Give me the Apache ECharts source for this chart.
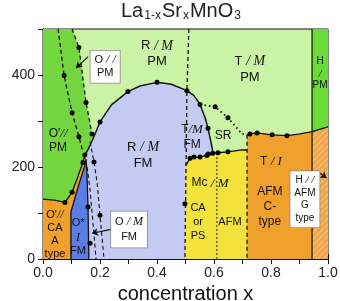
<!DOCTYPE html>
<html><head><meta charset="utf-8">
<script src="https://cdn.jsdelivr.net/npm/echarts@6/dist/echarts.min.js"></script>
<style>html,body{margin:0;padding:0;background:#fff}#c{width:340px;height:301px}</style>
</head><body><div id="c"></div>
<script>
// ---- axis ticks ----
const xTicks = [0.0, 0.2, 0.4, 0.6, 0.8, 1.0];
const yTicks = [0, 200, 400];

// ---- phase regions (x, T) ----
const regionLavender = [[0.14,0],[0.498,0],[0.502,204],[0.516,219],[0.551,222],[0.575,225],[0.596,230],[0.596,233],[0.588,258],[0.579,284],[0.57,305],[0.551,336],[0.53,355],[0.505,366],[0.45,380],[0.4,384],[0.34,376],[0.298,364],[0.24,335],[0.2,298],[0.176,262],[0.16,240],[0.147,226],[0.14,210]];
const regionOrangeLeft = [[0,0],[0.098,0],[0.098,102],[0.12,150],[0.147,204],[0.152,222],[0.147,226],[0.14,210],[0.12,175],[0.102,145],[0.077,123],[0.04,128],[0,130]];
const regionBlue = [[0.098,0],[0.161,0],[0.158,113],[0.154,189],[0.151,215],[0.149,222],[0.147,204],[0.12,150],[0.098,102]];
const regionDarkGreen = [[0,500],[0.102,500],[0.126,460],[0.151,340],[0.172,272],[0.176,262],[0.16,240],[0.147,226],[0.14,210],[0.12,175],[0.102,145],[0.077,123],[0.04,128],[0,130]];
const regionYellow = [[0.498,0],[0.716,0],[0.716,237],[0.698,237],[0.649,233],[0.614,231],[0.596,230],[0.575,225],[0.551,222],[0.516,219],[0.502,204]];
const regionOrangeRight = [[0.716,0],[1,0],[1,287],[0.944,277],[0.902,272],[0.856,268],[0.804,270],[0.751,274],[0.726,272],[0.716,270]];
const regionHatched = [[0.944,0],[1,0],[1,287],[0.944,277]];
const regionHGreen = [[0.944,277],[1,287],[1,500],[0.944,500]];

// ---- boundary lines ----
const solidDome = [[0.147,226],[0.16,240],[0.176,262],[0.2,298],[0.24,335],[0.298,364],[0.34,376],[0.4,384],[0.45,380],[0.505,366],[0.53,355],[0.551,336],[0.57,305],[0.579,284],[0.588,258],[0.596,233]];
const solidGreenBottom = [[0,130],[0.04,128],[0.077,123],[0.102,145],[0.12,175],[0.14,210],[0.147,226]];
const solidYellowTop = [[0.502,204],[0.516,219],[0.551,222],[0.575,225],[0.596,230],[0.614,231],[0.649,233],[0.698,237],[0.716,237]];
const solidOrangeTop = [[0.716,270],[0.726,272],[0.751,274],[0.804,270],[0.856,268],[0.902,272],[0.944,277],[1,287]];
const solidBlueLeft = [[0.098,0],[0.098,102],[0.12,150],[0.147,204],[0.151,218]];
const solidBlueRight = [[0.161,0],[0.158,113],[0.154,189],[0.151,215]];
const solidH = [[0.944,0],[0.944,500]];
const dashA = [[0.053,500],[0.074,399],[0.102,318],[0.126,266],[0.14,232]];
const dashB = [[0.102,500],[0.126,460],[0.151,340],[0.172,272],[0.176,262]];
const dashHalf = [[0.512,500],[0.505,366],[0.498,0]];
const dashC = [[0.165,255],[0.179,211],[0.19,165],[0.2,95],[0.214,0]];
const dashD = [[0.155,200],[0.165,150],[0.178,60],[0.186,0]];
const dashAfm = [[0.716,270],[0.716,0]];
const dotSR = [[0.551,336],[0.604,331],[0.649,307],[0.698,272],[0.716,270]];
const dotMc = [[0.61,230],[0.61,0]];

// ---- measured points ----
const points = [[0.074,399],[0.102,318],[0.126,266],[0.126,460],[0.151,340],[0.172,272],
 [0.2,298],[0.298,364],[0.4,384],[0.505,366],[0.551,336],[0.579,284],[0.604,331],[0.649,307],
 [0.077,123],[0.102,145],[0.14,210],[0.147,226],[0.516,219],[0.551,222],[0.575,225],[0.596,230],[0.614,231],[0.649,233],
 [0.726,272],[0.751,274],[0.804,270],[0.856,268],[0.158,113],[0.165,34],[0.179,211],[0.2,95],[0.498,120],[0.58,228],[0.53,222]];

// ---- labels [x, T, text] ----
const labels = [
 [0.4,446,'R {i|/ M}\nPM',13,16],
 [0.726,412,'T {i|/ M}\nPM',13,16],
 [0.972,403,'H\n{i|/}\nPM',10,12],
 [0.053,257,"O'{i|//}\nPM",12,14],
 [0.351,226,'R {i|/ M}\nFM',13,16],
 [0.523,265,'T{i|/M}\nFM',12,15],
 [0.632,268,'SR',12,14],
 [0.586,165,'Mc {i|/ M}',12,14],
 [0.544,80,'CA\nor\nPS',11,14],
 [0.656,80,'AFM',11,14],
 [0.8,211,'T {i|/ I}',12,14],
 [0.796,113,'AFM\nC-\ntype',12,15],
 [0.042,53,"O'{i|//}\nCA\nA\ntype",11,13],
 [0.123,47,'O*\n{i|I}\nFM',11,14]
];
const boxes = [
 [0.218,418,'O {i|/ /}\nPM',11,13],
 [0.302,64,'O {i|/ M}\nFM',11,15],
 [0.919,130,'H {i|/ /}\nAFM\nG\ntype',10,12.5]
];
const arrows = [
 [[0.158,440],[0.116,415]],
 [[0.235,64],[0.172,56]],
 [[0.96,192],[0.995,176]]
];

function poly(pts, fill, z){
  return {type:'custom', coordinateSystem:'cartesian2d', silent:true, z:z, clip:true,
    data:[[0,0]],
    renderItem:(p,api)=>({type:'polygon', shape:{points:pts.map(q=>api.coord(q))}, style:{fill:fill}})};
}
function line(pts, type, z, w){
  return {type:'line', data:pts, symbol:'none', silent:true, z:z,
    lineStyle:{color:'#111', width:w||1.3, type:type}};
}
function hatchPattern(){
  const cv=document.createElement('canvas'); cv.width=6; cv.height=6;
  const g=cv.getContext('2d'); g.fillStyle='#eea64a'; g.fillRect(0,0,6,6);
  g.strokeStyle='#f7c27a'; g.lineWidth=1.2;
  g.beginPath(); g.moveTo(0,6); g.lineTo(6,0); g.stroke();
  return {image:cv, repeat:'repeat'};
}
const rich = (fs)=>({i:{fontFamily:'Liberation Serif',fontStyle:'italic',fontSize:fs+1,color:'#111'}});

const series = [
  poly(regionLavender,'#c3cbf3',2),
  poly(regionOrangeLeft,'#f0a12c',3),
  poly(regionBlue,'#5a7ee6',4),
  poly(regionDarkGreen,'#73d63f',5),
  poly(regionYellow,'#f4e33d',3),
  poly(regionOrangeRight,'#f0a12c',3),
  poly(regionHatched,hatchPattern(),4),
  poly(regionHGreen,'#6bdb37',4),
  line(solidDome,'solid',10,1.5), line(solidGreenBottom,'solid',10), line(solidYellowTop,'solid',10),
  line(solidOrangeTop,'solid',10), line(solidBlueLeft,'solid',10), line(solidBlueRight,'solid',10),
  line(solidH,'solid',10,1.2),
  line(dashA,[4,3],10), line(dashB,[4,3],10), line(dashHalf,[4,3],10), line(dashC,[4,3],10,1.1),
  line(dashD,[4,3],10,1.1), line(dashAfm,[4,3],10),
  line(dotSR,[1.5,3],10,1.8), line(dotMc,[1.5,2.5],10,1.2),
  {type:'scatter', data:points, symbolSize:5, itemStyle:{color:'#000', opacity:1}, z:11, silent:true},
  {type:'scatter', symbolSize:0, z:12, silent:true, itemStyle:{opacity:1},
   data:labels.map(l=>({value:[l[0],l[1]], label:{fontSize:l[3], lineHeight:l[4], rich:rich(l[3])}})),
   label:{show:true, position:'inside', color:'#111', opacity:1, fontFamily:'Liberation Sans',
     formatter:(p)=>labels[p.dataIndex][2]}},
  {type:'scatter', symbolSize:0, z:13, silent:true, itemStyle:{opacity:1},
   data:boxes.map(l=>({value:[l[0],l[1]], label:{fontSize:l[3], lineHeight:l[4], rich:rich(l[3])}})),
   label:{show:true, position:'inside', color:'#111', opacity:1, fontFamily:'Liberation Sans',
     backgroundColor:'#fff', borderColor:'#888', borderWidth:0.8, padding:[3,4],
     formatter:(p)=>boxes[p.dataIndex][2]}},
  {type:'lines', coordinateSystem:'cartesian2d', z:12, silent:true,
   data:arrows.map(a=>({coords:a})), symbol:['none','arrow'], symbolSize:6,
   lineStyle:{color:'#111', width:1.2, opacity:1}}
];

const chart = echarts.init(document.getElementById('c'), null, {renderer:'canvas'});
const axLbl = {color:'#222', fontSize:14, fontFamily:'Liberation Sans'};
chart.setOption({
  animation:false,
  title:{text:'La{s|1-x}Sr{s|x}MnO{s|3}', left:121, top:0, padding:0,
    textStyle:{fontFamily:'Liberation Sans', fontSize:20, fontWeight:'normal', color:'#222', lineHeight:22,
      rich:{s:{fontSize:12, fontFamily:'Liberation Sans', color:'#222', verticalAlign:'bottom', lineHeight:14, padding:[12,1,0,1]}}}},
  grid:{left:43, right:12, top:29, bottom:42, containLabel:false, outerBoundsMode:'none',
    show:true, borderColor:'#111', borderWidth:1, backgroundColor:'#cbf3a6'},
  xAxis:[
    {type:'value', min:0, max:1, interval:0.1, position:'bottom',
     axisLine:{show:true, lineStyle:{color:'#111'}}, axisTick:{inside:true, length:5, lineStyle:{color:'#111'}},
     splitLine:{show:false},
     axisLabel:{...axLbl, margin:7, formatter:(v)=>{const r=Math.round(v*10)/10; return xTicks.some(t=>Math.abs(t-r)<1e-6)?r.toFixed(1):'';}},
     name:'concentration x', nameLocation:'middle', nameGap:20,
     nameTextStyle:{fontSize:20, color:'#111', fontFamily:'Liberation Sans'}},
    {type:'value', min:0, max:1, interval:0.1, position:'top',
     axisLine:{show:true, lineStyle:{color:'#111'}}, axisTick:{inside:true, length:5, lineStyle:{color:'#111'}},
     splitLine:{show:false}, axisLabel:{show:false}}
  ],
  yAxis:[
    {type:'value', min:0, max:500, interval:100, position:'left',
     axisLine:{show:true, lineStyle:{color:'#111'}}, axisTick:{inside:true, length:5, lineStyle:{color:'#111'}},
     splitLine:{show:false},
     axisLabel:{...axLbl, margin:8, formatter:(v)=>yTicks.includes(v)?String(v):''},
     name:'T (K)', nameLocation:'middle', nameGap:19, nameRotate:90,
     nameTextStyle:{fontSize:20, color:'#111', fontFamily:'Liberation Sans'}},
    {type:'value', min:0, max:500, interval:100, position:'right',
     axisLine:{show:true, lineStyle:{color:'#111'}}, axisTick:{inside:true, length:5, lineStyle:{color:'#111'}},
     splitLine:{show:false}, axisLabel:{show:false}}
  ],
  series:series
});
</script></body></html>
